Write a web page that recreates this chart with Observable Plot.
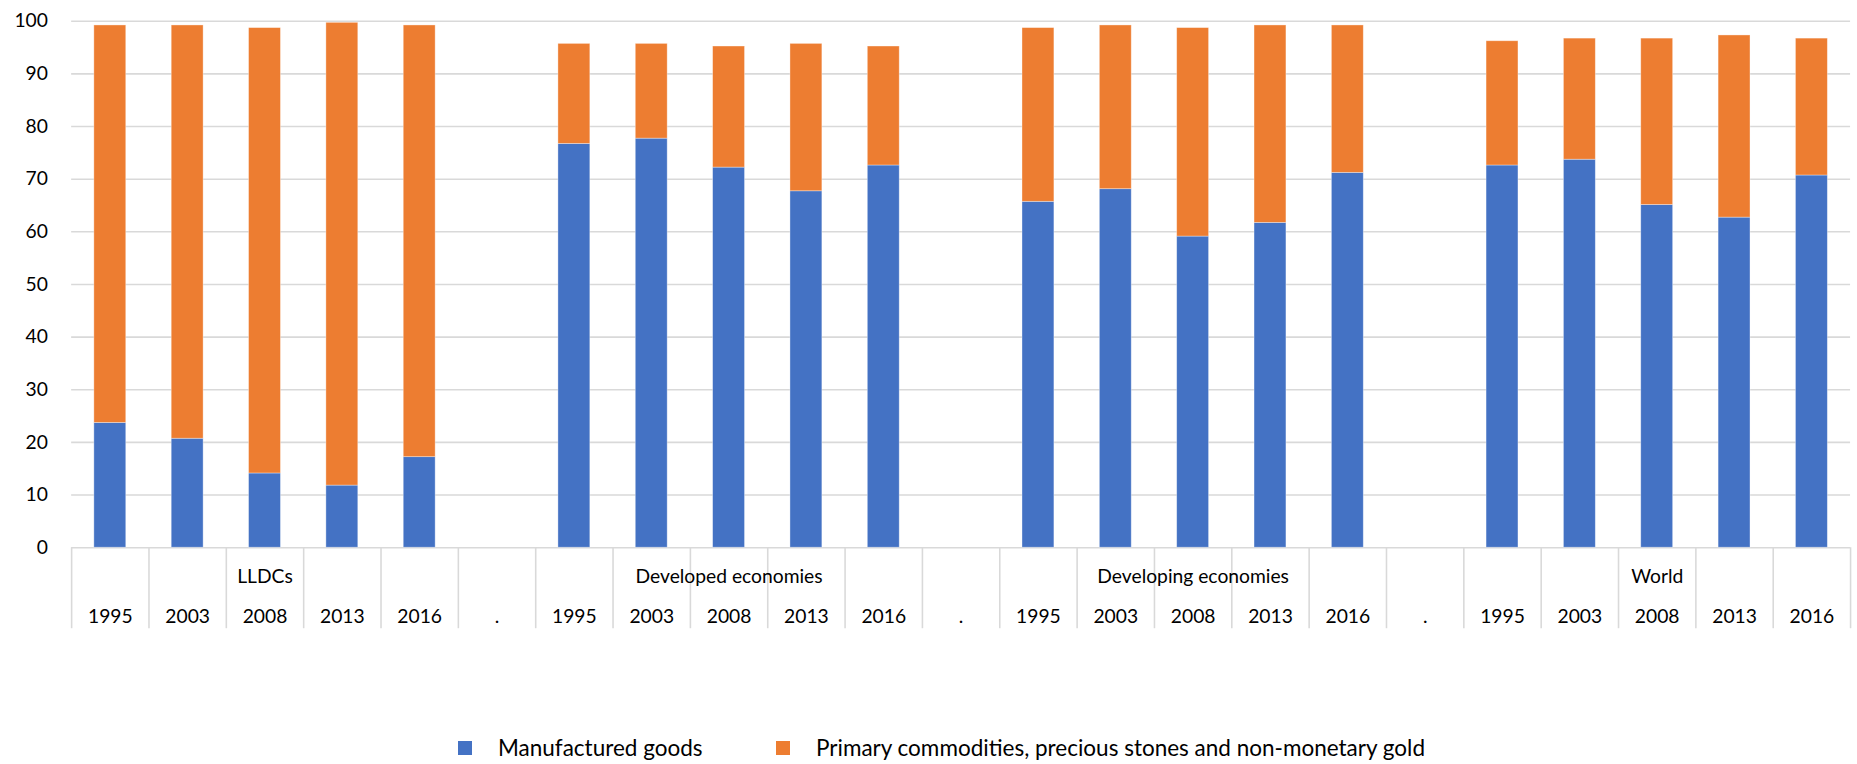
<!DOCTYPE html>
<html>
<head>
<meta charset="utf-8">
<script src="https://cdn.jsdelivr.net/npm/d3@7"></script>
<script src="https://cdn.jsdelivr.net/npm/@observablehq/plot@0.6"></script>
<style>
  html, body { margin: 0; padding: 0; background: #fff; overflow: hidden; width: 1857px; height: 764px; }
  #chart { position: relative; width: 1857px; height: 764px; overflow: hidden; font-family: Lato, sans-serif; }
  #chart svg { position: absolute; left: 0; top: 0; }
  .item { position: absolute; top: 735px; display: flex; align-items: center; font-size: 22.5px; color: #000; white-space: nowrap; line-height: 26px; }
  .sw { width: 14px; height: 14px; margin-right: 26px; }
</style>
</head>
<body>
<div id="chart"></div>
<script>
// ---- data ----
const groups = ["LLDCs", "Developed economies", "Developing economies", "World"];
const years = ["1995", "2003", "2008", "2013", "2016"];
const separatorLabel = ".";
const seriesNames = ["Manufactured goods", "Primary commodities, precious stones and non-monetary gold"];
const seriesColors = ["#4472C4", "#ED7D31"];

const manufacturedLLDCs = [23.7, 20.7, 14.1, 11.8, 17.2];
const primaryLLDCs      = [75.5, 78.5, 84.6, 87.9, 82.0];
const manufacturedDeveloped = [76.7, 77.7, 72.2, 67.7, 72.6];
const primaryDeveloped      = [19.0, 18.0, 23.0, 28.0, 22.6];
const manufacturedDeveloping = [65.7, 68.1, 59.1, 61.7, 71.2];
const primaryDeveloping      = [33.0, 31.1, 39.6, 37.5, 28.0];
const manufacturedWorld = [72.6, 73.7, 65.1, 62.7, 70.7];
const primaryWorld      = [23.6, 23.0, 31.6, 34.6, 26.0];

const yTicks = [0, 10, 20, 30, 40, 50, 60, 70, 80, 90, 100];

// ---- build slot table (years per group, "." separators between groups) ----
const manufacturedByGroup = [manufacturedLLDCs, manufacturedDeveloped, manufacturedDeveloping, manufacturedWorld];
const primaryByGroup = [primaryLLDCs, primaryDeveloped, primaryDeveloping, primaryWorld];

const slots = [];
const groupSlots = [];
groups.forEach((g, gi) => {
  const first = slots.length;
  years.forEach((y, yi) => {
    slots.push({label: y, group: g, m: manufacturedByGroup[gi][yi], p: primaryByGroup[gi][yi]});
  });
  groupSlots.push({name: g, first, last: slots.length - 1});
  if (gi < groups.length - 1) slots.push({label: separatorLabel, group: null});
});
slots.forEach((s, i) => { s.i = i; });

const rows = [];
slots.forEach(s => {
  if (s.group == null) return;
  rows.push({x1: s.i, x2: s.i + 1, series: seriesNames[0], value: s.m});
  rows.push({x1: s.i, x2: s.i + 1, series: seriesNames[1], value: s.p});
});

const boundaries = d3.range(0, slots.length + 1);
const centers = slots.map(s => s.i + 0.5);
const groupCenters = groupSlots.map(g => (g.first + g.last + 1) / 2);

const chart = Plot.plot({
  width: 1880,
  height: 640,
  marginLeft: 72,
  marginRight: 7,
  marginTop: 21,
  marginBottom: 86,
  style: {fontFamily: "Lato, sans-serif", fontSize: "19.5px", color: "#000", background: "transparent"},
  x: {type: "linear", domain: [0, slots.length], label: null},
  y: {domain: [0, 100], label: null},
  color: {domain: seriesNames, range: seriesColors},
  marks: [
    Plot.gridY(yTicks, {stroke: "#d9d9d9", strokeOpacity: 1, strokeWidth: 1.6}),
    Plot.axisY(yTicks, {tickSize: 0, tickPadding: 24, fill: "#000"}),
    Plot.rectY(rows, {x1: "x1", x2: "x2", y: "value", fill: "series", insetLeft: 23, insetRight: 23,
                      stroke: "#fff", strokeOpacity: 0.45, strokeWidth: 0.8}),
    Plot.axisX(boundaries, {tickSize: 82, tickFormat: () => "", stroke: "#d9d9d9", strokeWidth: 1.6}),
    Plot.axisX(centers, {tickSize: 0, tickPadding: 62, tickFormat: v => slots[Math.floor(v)].label, fill: "#000"}),
    Plot.axisX(groupCenters, {tickSize: 0, tickPadding: 22, tickFormat: v => groupSlots[groupCenters.indexOf(v)].name, fill: "#000"})
  ]
});
const root = document.getElementById("chart");
root.appendChild(chart);

// legend below the SVG
seriesNames.forEach((name, k) => {
  const item = document.createElement("div");
  item.className = "item";
  item.style.left = (k === 0 ? 458 : 776) + "px";
  const sw = document.createElement("div");
  sw.className = "sw";
  sw.style.background = seriesColors[k];
  const label = document.createElement("span");
  label.textContent = name;
  item.appendChild(sw);
  item.appendChild(label);
  root.appendChild(item);
});
</script>
</body>
</html>
